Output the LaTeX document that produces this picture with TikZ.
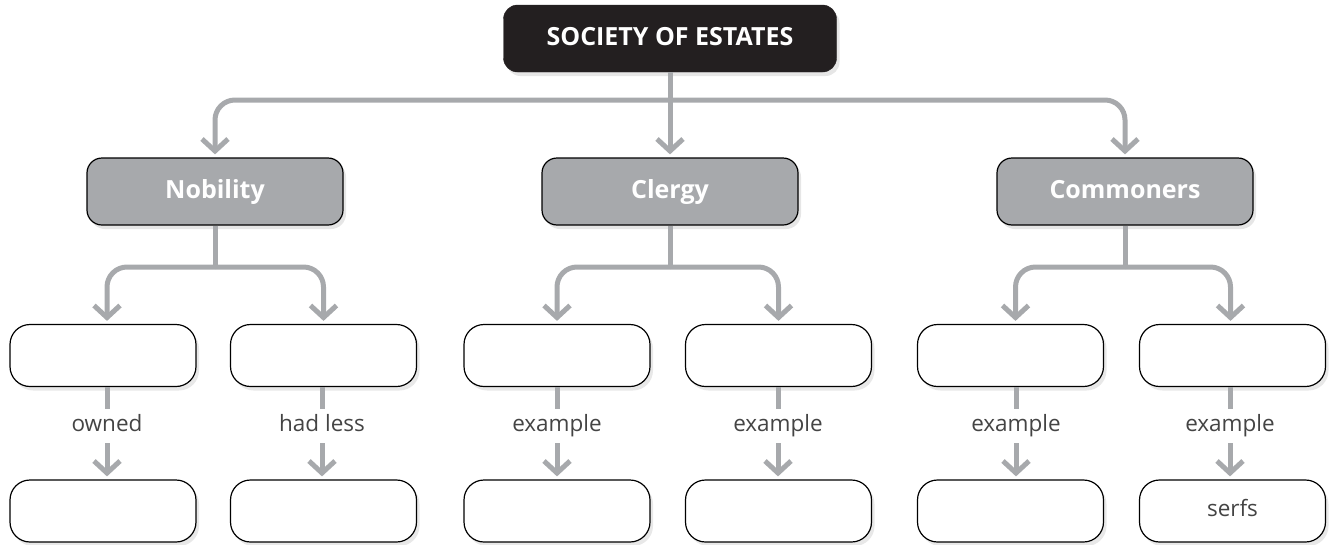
\documentclass[tikz,border=0pt]{standalone}
\usepackage{fontspec}
\setmainfont{Open Sans}
\usetikzlibrary{arrows.meta,shadows}
\definecolor{conngray}{HTML}{A7A9AC}
\definecolor{boxgray}{HTML}{A7A9AC}
\definecolor{topblack}{HTML}{231F20}
\definecolor{labelgray}{HTML}{444444}
\tikzset{
  topbox/.style={draw=topblack, fill=topblack, rounded corners=14pt, minimum width=333pt, minimum height=67pt,
    text=white, font=\fontsize{25}{30}\selectfont\bfseries, inner sep=0pt, text height=18pt, text depth=5pt,
    drop shadow={shadow xshift=3pt, shadow yshift=-4pt, opacity=0.2}},
  graybox/.style={draw=black, line width=1.2pt, fill=boxgray, rounded corners=15pt, minimum width=256pt, minimum height=67pt,
    text=white, font=\fontsize{25}{30}\selectfont\bfseries, inner sep=0pt, text height=18pt, text depth=5pt,
    drop shadow={shadow xshift=3pt, shadow yshift=-4pt, opacity=0.2}},
  whitebox/.style={draw=black, line width=1.2pt, fill=white, rounded corners=20pt, minimum width=186pt, minimum height=62pt,
    text=labelgray, font=\fontsize{22.5}{27}\selectfont, inner sep=0pt, text height=16pt, text depth=5pt,
    drop shadow={shadow xshift=3pt, shadow yshift=-4pt, opacity=0.18}},
  lbl/.style={text=labelgray, font=\fontsize{22.5}{27}\selectfont, inner xsep=2pt, inner ysep=0pt,
    text height=16pt, text depth=5pt, minimum height=34pt},
  conn/.style={draw=conngray, line width=5pt},
  arr/.style={conn, -{Straight Barb[length=12pt,width=26pt]}, shorten >=3pt},
}
\begin{document}
\begin{tikzpicture}[x=1pt,y=1pt]
\useasboundingbox (0,0) rectangle (1333,-544);
\coordinate (j0) at (670,-100);
\coordinate (jn) at (215,-267);
\coordinate (jc) at (670,-267);
\coordinate (jm) at (1125,-267);

\node[topbox] (top) at (670,-38.5) {SOCIETY OF ESTATES};
\node[graybox] (nob) at (215,-191.5) {Nobility};
\node[graybox] (cle) at (670,-191.5) {Clergy};
\node[graybox] (com) at (1125,-191.5) {Commoners};

\node[whitebox] (a1) at (103,-355.5) {};
\node[whitebox] (a2) at (323.5,-355.5) {};
\node[whitebox] (b1) at (557,-355.5) {};
\node[whitebox] (b2) at (778.5,-355.5) {};
\node[whitebox] (c1) at (1010.5,-355.5) {};
\node[whitebox] (c2) at (1232.5,-355.5) {};

\node[lbl] (la1) at (107,-426) {owned};
\node[lbl] (la2) at (322,-426) {had less};
\node[lbl] (lb1) at (557,-426) {example};
\node[lbl] (lb2) at (778,-426) {example};
\node[lbl] (lc1) at (1016,-426) {example};
\node[lbl] (lc2) at (1230,-426) {example};

\node[whitebox] (a1b) at (103,-511) {};
\node[whitebox] (a2b) at (323.5,-511) {};
\node[whitebox] (b1b) at (557,-511) {};
\node[whitebox] (b2b) at (778.5,-511) {};
\node[whitebox] (c1b) at (1010.5,-511) {};
\node[whitebox] (c2b) at (1232.5,-511) {serfs};

% top level
\draw[conn] (top.south) -- (j0);
\draw[arr, rounded corners=20pt] (j0) -| (nob.north);
\draw[arr] (j0) -- (cle.north);
\draw[arr, rounded corners=20pt] (j0) -| (com.north);
% second level
\draw[conn] (nob.south) -- (jn);
\draw[arr, rounded corners=20pt] (jn) -| ([xshift=4pt]a1.north);
\draw[arr, rounded corners=20pt] (jn) -| (a2.north);
\draw[conn] (cle.south) -- (jc);
\draw[arr, rounded corners=20pt] (jc) -| (b1.north);
\draw[arr, rounded corners=20pt] (jc) -| (b2.north);
\draw[conn] (com.south) -- (jm);
\draw[arr, rounded corners=20pt] (jm) -| ([xshift=5pt]c1.north);
\draw[arr, rounded corners=20pt] (jm) -| ([xshift=-2pt]c2.north);
% third level
\foreach \u/\l/\d in {a1/la1/a1b, a2/la2/a2b, b1/lb1/b1b, b2/lb2/b2b, c1/lc1/c1b, c2/lc2/c2b}{
  \draw[conn] (\u.south -| \l.north) -- (\l.north);
  \draw[arr] (\l.south) -- (\l.south |- \d.north);
}
\end{tikzpicture}
\end{document}
